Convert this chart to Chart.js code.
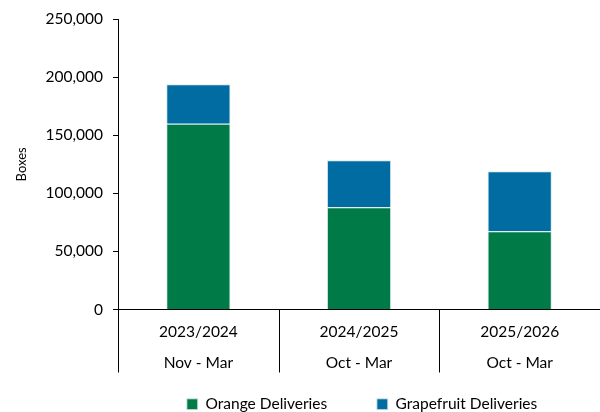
<!DOCTYPE html>
<html>
<head>
<meta charset="utf-8">
<script src="https://cdn.jsdelivr.net/npm/chart.js@4"></script>
<style>
  html, body { margin: 0; padding: 0; background: #fff; }
  #wrap { width: 600px; height: 412px; }
</style>
</head>
<body>
<div id="wrap"><canvas id="chart" width="600" height="412"></canvas></div>
<script>
// Data
const seasons = ["2023/2024", "2024/2025", "2025/2026"];
const periods = ["Nov - Mar", "Oct - Mar", "Oct - Mar"];
const orangeDeliveries = [160000, 88000, 67500];
const grapefruitDeliveries = [34000, 40500, 51500];
const yTicks = [0, 50000, 100000, 150000, 200000, 250000];

const FONT = "Lato, 'Liberation Sans', sans-serif";

// vertical separators between the category groups, below the axis
const separators = {
    id: "separators",
    afterLayout(chart) {
        // legend sits a little right of centre and low in the reference
        chart.legend.left += 3;
        chart.legend.right += 3;
        chart.legend.top += 10;
        chart.legend.bottom += 10;
    },
    afterDraw(chart) {
        let x = chart.scales.x;
        let ctx = chart.ctx;
        let n = seasons.length;
        let step = (x.right - x.left) / n;
        ctx.save();
        ctx.strokeStyle = "#000";
        ctx.lineWidth = 1;
        for (let i = 0; i < n; i++) {
            let px = Math.round(x.left + i * step) + 0.5;
            ctx.beginPath();
            ctx.moveTo(px, chart.chartArea.bottom);
            ctx.lineTo(px, chart.chartArea.bottom + 63);
            ctx.stroke();
        }
        ctx.restore();
    }
};

let ctx = document.getElementById("chart").getContext("2d");
new Chart(ctx, {
    type: "bar",
    data: {
        labels: seasons.map((s, i) => [s, periods[i]]),
        datasets: [
            { label: "Orange Deliveries", data: orangeDeliveries, backgroundColor: "#007b48", borderColor: "#d6e9ee", borderWidth: 1, borderSkipped: "bottom" },
            { label: "Grapefruit Deliveries", data: grapefruitDeliveries, backgroundColor: "#006ca2", borderColor: "#d6e9ee", borderWidth: 1, borderSkipped: "bottom" }
        ]
    },
    options: {
        responsive: false,
        animation: false,
        layout: { padding: { top: 8, right: 0, left: 14, bottom: 0 } },
        datasets: { bar: { barPercentage: 0.4, categoryPercentage: 1 } },
        scales: {
            x: {
                stacked: true,
                afterFit: s => { s.height -= 1; },
                grid: { display: true, drawOnChartArea: false, drawTicks: false, color: "rgba(0,0,0,0)" },
                border: { display: true, color: "#000", width: 1 },
                ticks: { color: "#000", padding: 7, maxRotation: 0, font: { family: FONT, size: 15.5, lineHeight: 2.0 } }
            },
            y: {
                stacked: true,
                min: 0,
                max: 250000,
                afterBuildTicks: axis => { axis.ticks = yTicks.map(v => ({ value: v })); },
                grid: { display: true, drawOnChartArea: false, drawTicks: true, tickLength: 5, color: "#000" },
                border: { display: true, color: "#000", width: 1 },
                ticks: { color: "#000", padding: 10, font: { family: FONT, size: 15.5 }, callback: v => v.toLocaleString("en-US") },
                title: { display: true, text: "Boxes", color: "#000", font: { family: FONT, size: 13 }, padding: { top: 0, bottom: 6 } }
            }
        },
        plugins: {
            legend: {
                position: "bottom",
                fullSize: false,
                labels: {
                    color: "#000", boxWidth: 11, boxHeight: 11, padding: 2,
                    font: { family: FONT, size: 15.5 },
                    generateLabels: chart => {
                        let items = Chart.defaults.plugins.legend.labels.generateLabels(chart);
                        // widen the gap after the first entry, as in the reference
                        items[0].text = items[0].text + "            ";
                        return items;
                    }
                }
            },
            tooltip: { enabled: false }
        }
    },
    plugins: [separators]
});
</script>
</body>
</html>
